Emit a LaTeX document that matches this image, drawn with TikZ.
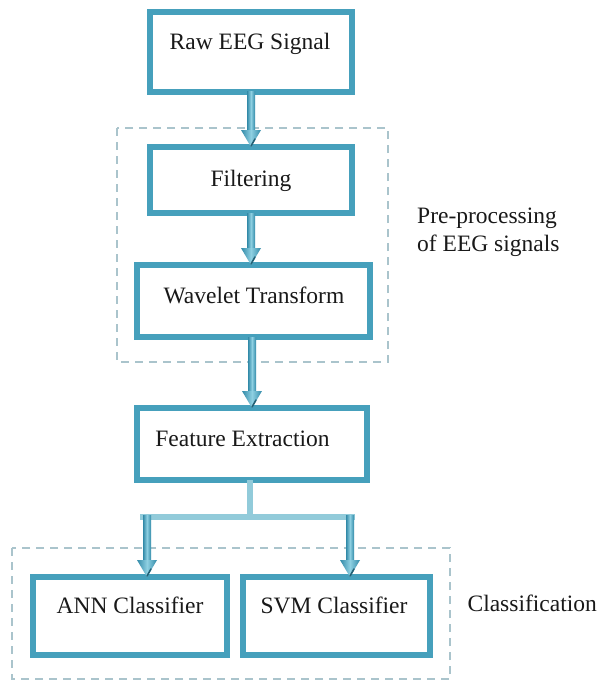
\documentclass[tikz,border=0pt]{standalone}
\usepackage{fontspec}
\setmainfont{Liberation Serif}
\usetikzlibrary{calc,arrows.meta}

\definecolor{boxteal}{RGB}{70,160,188}
\definecolor{dashgray}{RGB}{170,196,204}
\definecolor{barblue}{RGB}{146,203,218}
\definecolor{arrowdark}{RGB}{50,138,168}
\definecolor{arrowlight}{RGB}{142,208,226}
\definecolor{ink}{RGB}{25,25,25}

% shaded block arrow running straight down from #1 to #2
\newcommand\flowarrow[2]{%
  \shade[left color=arrowdark,right color=arrowdark,middle color=arrowlight]
    let \p1=(#1), \p2=(#2) in
    (\x1-4pt,\y1) rectangle (\x1+4pt,\y2+17pt);
  \shade[left color=arrowdark,right color=arrowdark,middle color=arrowlight]
    let \p1=(#1), \p2=(#2) in
    (\x1-10pt,\y2+17pt) -- (\x1+10pt,\y2+17pt) -- (\x1,\y2) -- cycle;
  \draw[arrowdark!70!black,line width=1.6pt,line cap=round]
    let \p1=(#1), \p2=(#2) in
    (\x1,\y2+1pt) -- (\x1+4pt,\y2+8pt);
}

\begin{document}
\begin{tikzpicture}[x=1pt,y=-1pt,
  box/.style={draw=boxteal,line width=5.5pt,fill=white,inner sep=0pt,outer sep=0pt},
  lbl/.style={text=ink,font=\fontsize{23.5}{28}\selectfont,anchor=base,inner sep=0pt},
  group/.style={draw=dashgray,line width=2pt,dash pattern=on 8pt off 6pt},
  bar/.style={draw=barblue,line width=6pt}]

\fill[white] (0,0) rectangle (602,682);
\useasboundingbox (0,0) rectangle (602,682);

% dashed group frames
\draw[group] (117,128) rectangle (388,362);
\draw[group] (12,548) rectangle (450,679);

% process boxes
\node[box,minimum width=202pt,minimum height=80pt] (raw)  at (251,52)  {};
\node[box,minimum width=202pt,minimum height=66pt] (filt) at (251,180) {};
\node[box,minimum width=233pt,minimum height=72pt] (wav)  at (253.5,301) {};
\node[box,minimum width=230pt,minimum height=72pt] (feat) at (252,444) {};
\node[box,minimum width=194pt,minimum height=78pt] (ann)  at (130,616) {};
\node[box,minimum width=187pt,minimum height=78pt] (svm)  at (336.5,616) {};

% box captions
\node[lbl] (rawtxt)  at (250,50)  {Raw EEG Signal};
\node[lbl] (filttxt) at (251,186) {Filtering};
\node[lbl] (wavtxt)  at (254,303) {Wavelet Transform};
\node[lbl] (feattxt) at (242.5,446) {Feature Extraction};
\node[lbl] (anntxt)  at (130,613) {ANN Classifier};
\node[lbl] (svmtxt)  at (334,613) {SVM Classifier};

% group captions
\node[lbl,anchor=base west] (pre1) at (417,223) {Pre-processing};
\node[lbl,anchor=base west] (pre2) at (417,251) {of EEG signals};
\node[lbl,anchor=base east] (cls)  at (597,611) {Classification};

% arrows along the main chain
\flowarrow{raw.south}{raw.south |- filt.north}
\flowarrow{filt.south}{filt.south |- wav.north}
\coordinate (wavout) at (252,337);
\flowarrow{wavout}{wavout |- feat.north}

% split towards the two classifiers
\coordinate (split) at (250,517);
\coordinate (barL) at (140,517);
\coordinate (barR) at (355,517);
\draw[bar] (split |- feat.south) -- (split);
\draw[bar] (barL) -- (barR);
\coordinate (annin) at (147,515);
\coordinate (svmin) at (350,515);
\flowarrow{annin}{annin |- ann.north}
\flowarrow{svmin}{svmin |- svm.north}

\end{tikzpicture}
\end{document}
